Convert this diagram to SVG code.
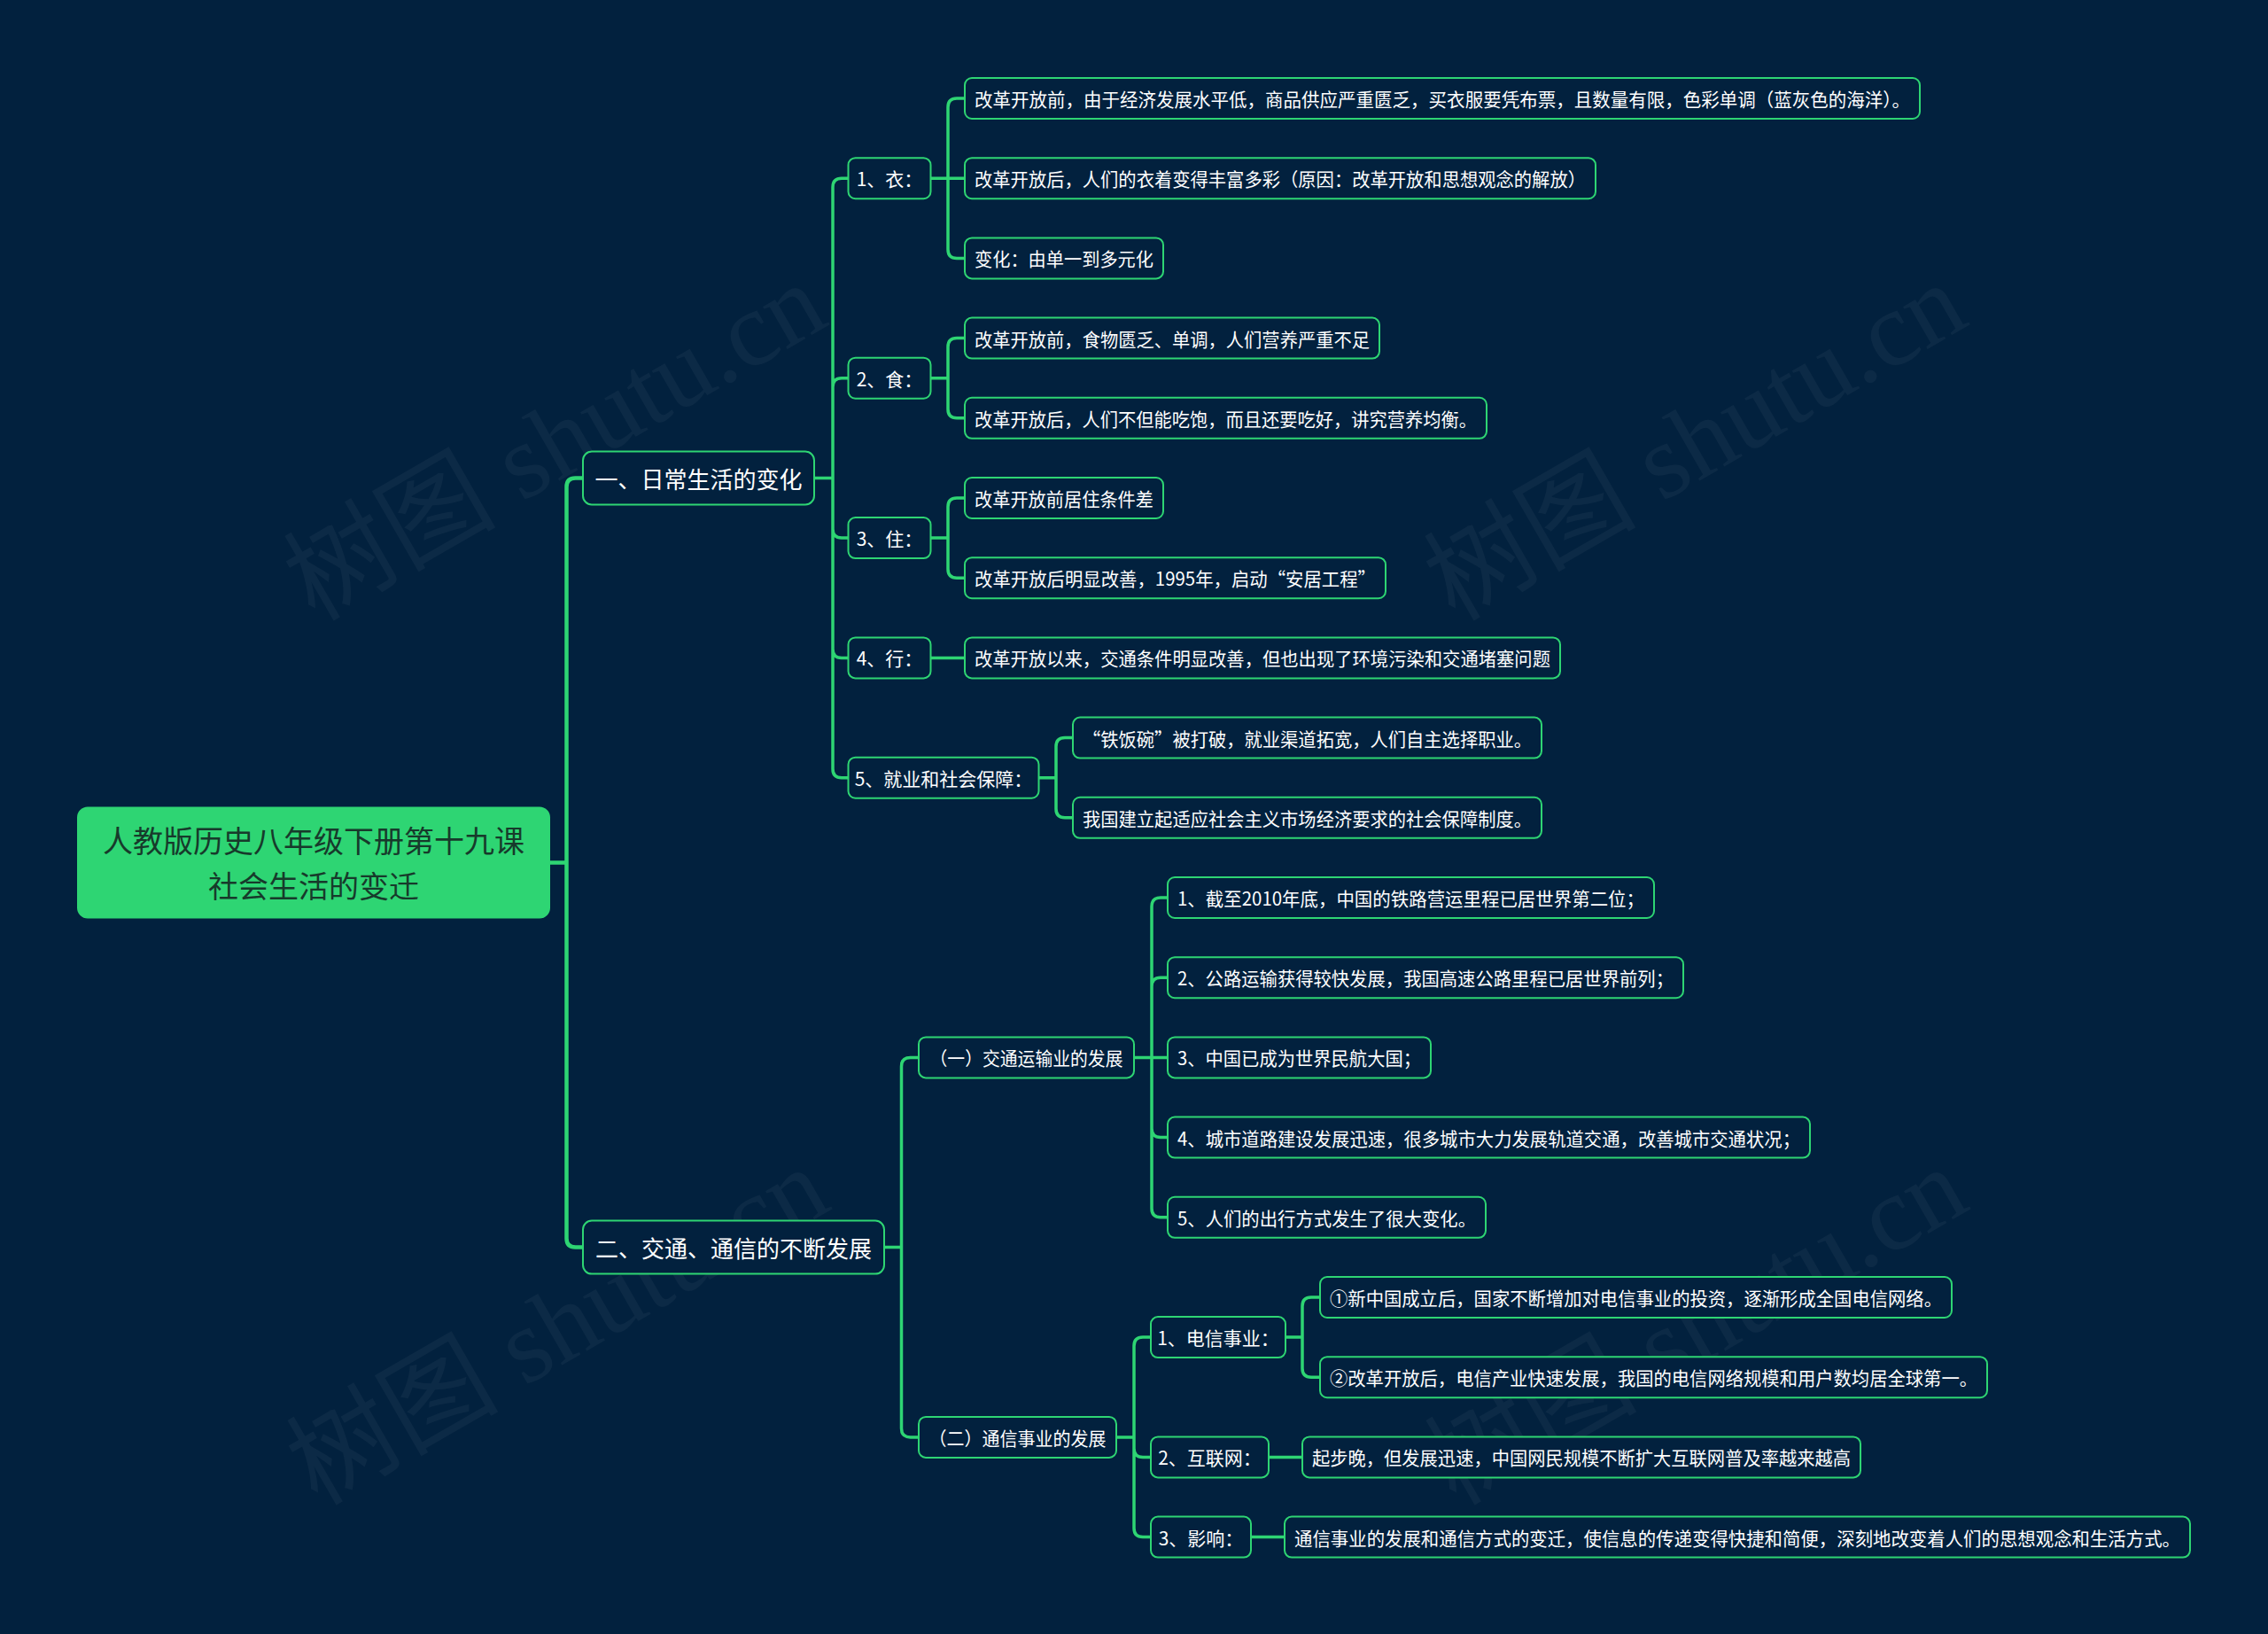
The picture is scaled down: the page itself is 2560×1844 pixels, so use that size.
<svg xmlns="http://www.w3.org/2000/svg" width="2560" height="1844" viewBox="0 0 2560 1844">
<style>
.bg{fill:#02213e}
.box{fill:#02213e;stroke:#2ed573;stroke-width:2}
.t{font-family:"Noto Sans CJK SC","Liberation Sans",sans-serif;fill:#ffffff;font-size:21px;text-anchor:middle;dominant-baseline:central}
.t1{font-size:26px}
.rt{font-family:"Noto Sans CJK SC","Liberation Sans",sans-serif;fill:#173a2b;font-size:34px;text-anchor:middle;dominant-baseline:central}
.c{fill:none;stroke:#2ed573;stroke-width:3.5;stroke-linecap:round}
.c0{stroke-width:4.5}
.wm{font-family:"Liberation Serif","Noto Sans CJK SC",serif;font-size:120px;fill:#ffffff;opacity:0.04}
</style>
<rect class="bg" x="0" y="0" width="2560" height="1844"/>
<g id="watermarks">
<text class="wm" transform="translate(355,702) rotate(-30)">树图 shutu.cn</text>
<text class="wm" transform="translate(1642,702) rotate(-30)">树图 shutu.cn</text>
<text class="wm" transform="translate(358,1700) rotate(-30)">树图 shutu.cn</text>
<text class="wm" transform="translate(1643,1700) rotate(-30)">树图 shutu.cn</text>
</g>
<g id="connectors">
<path class="c c0" d="M621,973.5 H639.5 M639.5,973.5 V549.5 Q639.5,539.5 649.5,539.5 H658 M639.5,973.5 V1397.6 Q639.5,1407.6 649.5,1407.6 H658"/>
<path class="c" d="M919,539.5 H940 M940,539.5 V211.2 Q940,201.2 950,201.2 H957.5 M940,539.5 V436.7 Q940,426.7 950,426.7 H957.5 M940,539.5 V597.1 Q940,607.1 950,607.1 H957.5 M940,539.5 V732.4 Q940,742.4 950,742.4 H957.5 M940,539.5 V867.7 Q940,877.7 950,877.7 H957.5"/>
<path class="c" d="M1050.5,201.2 H1089 M1070,201.2 V121 Q1070,111 1080,111 H1089 M1070,201.2 V281.4 Q1070,291.4 1080,291.4 H1089"/>
<path class="c" d="M1050.5,426.7 H1070 M1070,426.7 V391.6 Q1070,381.6 1080,381.6 H1089 M1070,426.7 V461.8 Q1070,471.8 1080,471.8 H1089"/>
<path class="c" d="M1050.5,607.1 H1070 M1070,607.1 V572 Q1070,562 1080,562 H1089 M1070,607.1 V642.2 Q1070,652.2 1080,652.2 H1089"/>
<path class="c" d="M1050.5,742.4 H1089"/>
<path class="c" d="M1172.5,877.7 H1192 M1192,877.7 V842.6 Q1192,832.6 1202,832.6 H1211 M1192,877.7 V912.8 Q1192,922.8 1202,922.8 H1211"/>
<path class="c" d="M998,1407.6 H1017.5 M1017.5,1407.6 V1203.4 Q1017.5,1193.4 1027.5,1193.4 H1037 M1017.5,1407.6 V1611.9 Q1017.5,1621.9 1027.5,1621.9 H1037"/>
<path class="c" d="M1280,1193.4 H1318 M1300,1193.4 V1023 Q1300,1013 1310,1013 H1318 M1300,1193.4 V1113.2 Q1300,1103.2 1310,1103.2 H1318 M1300,1193.4 V1273.6 Q1300,1283.6 1310,1283.6 H1318 M1300,1193.4 V1363.8 Q1300,1373.8 1310,1373.8 H1318"/>
<path class="c" d="M1260,1621.9 H1280 M1280,1621.9 V1519.1 Q1280,1509.1 1290,1509.1 H1299 M1280,1621.9 V1634.4 Q1280,1644.4 1290,1644.4 H1299 M1280,1621.9 V1724.6 Q1280,1734.6 1290,1734.6 H1299"/>
<path class="c" d="M1451,1509.1 H1470 M1470,1509.1 V1474 Q1470,1464 1480,1464 H1490 M1470,1509.1 V1544.2 Q1470,1554.2 1480,1554.2 H1490"/>
<path class="c" d="M1432,1644.4 H1470"/>
<path class="c" d="M1412,1734.6 H1450"/>
</g>
<g id="n-root">
<rect x="87" y="910.5" width="534" height="126" rx="12" fill="#2ed573"/>
<text class="rt" x="354" y="947">人教版历史八年级下册第十九课</text>
<text class="rt" x="354" y="998">社会生活的变迁</text>
</g>
<g id="n1"><rect class="box" x="658" y="509.5" width="261" height="60" rx="10"/><text class="t t1" x="788.5" y="539.5">一、日常生活的变化</text></g>
<g id="n2"><rect class="box" x="658" y="1377.6" width="340" height="60" rx="10"/><text class="t t1" x="828" y="1407.6">二、交通、通信的不断发展</text></g>
<g id="n1-1"><rect class="box" x="957.5" y="178.2" width="93" height="46" rx="8"/><text class="t" x="1004" y="201.2">1、衣：</text></g>
<g id="n1-2"><rect class="box" x="957.5" y="403.7" width="93" height="46" rx="8"/><text class="t" x="1004" y="426.7">2、食：</text></g>
<g id="n1-3"><rect class="box" x="957.5" y="584.1" width="93" height="46" rx="8"/><text class="t" x="1004" y="607.1">3、住：</text></g>
<g id="n1-4"><rect class="box" x="957.5" y="719.4" width="93" height="46" rx="8"/><text class="t" x="1004" y="742.4">4、行：</text></g>
<g id="n1-5"><rect class="box" x="957.5" y="854.7" width="215" height="46" rx="8"/><text class="t" x="1065" y="877.7">5、就业和社会保障：</text></g>
<g id="n1-1-1"><rect class="box" x="1089" y="88" width="1078" height="46" rx="8"/><text class="t" x="1628" y="111" textLength="1056" lengthAdjust="spacingAndGlyphs">改革开放前，由于经济发展水平低，商品供应严重匮乏，买衣服要凭布票，且数量有限，色彩单调（蓝灰色的海洋）。</text></g>
<g id="n1-1-2"><rect class="box" x="1089" y="178.2" width="712" height="46" rx="8"/><text class="t" x="1445" y="201.2" textLength="690" lengthAdjust="spacingAndGlyphs">改革开放后，人们的衣着变得丰富多彩（原因：改革开放和思想观念的解放）</text></g>
<g id="n1-1-3"><rect class="box" x="1089" y="268.4" width="224" height="46" rx="8"/><text class="t" x="1201" y="291.4" textLength="202" lengthAdjust="spacingAndGlyphs">变化：由单一到多元化</text></g>
<g id="n1-2-1"><rect class="box" x="1089" y="358.6" width="468" height="46" rx="8"/><text class="t" x="1323" y="381.6" textLength="446" lengthAdjust="spacingAndGlyphs">改革开放前，食物匮乏、单调，人们营养严重不足</text></g>
<g id="n1-2-2"><rect class="box" x="1089" y="448.8" width="589" height="46" rx="8"/><text class="t" x="1383.5" y="471.8" textLength="567" lengthAdjust="spacingAndGlyphs">改革开放后，人们不但能吃饱，而且还要吃好，讲究营养均衡。</text></g>
<g id="n1-3-1"><rect class="box" x="1089" y="539" width="224" height="46" rx="8"/><text class="t" x="1201" y="562" textLength="202" lengthAdjust="spacingAndGlyphs">改革开放前居住条件差</text></g>
<g id="n1-3-2"><rect class="box" x="1089" y="629.2" width="475" height="46" rx="8"/><text class="t" x="1326.5" y="652.2" textLength="453" lengthAdjust="spacingAndGlyphs">改革开放后明显改善，1995年，启动“安居工程”</text></g>
<g id="n1-4-1"><rect class="box" x="1089" y="719.4" width="672" height="46" rx="8"/><text class="t" x="1425" y="742.4" textLength="650" lengthAdjust="spacingAndGlyphs">改革开放以来，交通条件明显改善，但也出现了环境污染和交通堵塞问题</text></g>
<g id="n1-5-1"><rect class="box" x="1211" y="809.6" width="529" height="46" rx="8"/><text class="t" x="1475.5" y="832.6" textLength="507" lengthAdjust="spacingAndGlyphs">“铁饭碗”被打破，就业渠道拓宽，人们自主选择职业。</text></g>
<g id="n1-5-2"><rect class="box" x="1211" y="899.8" width="529" height="46" rx="8"/><text class="t" x="1475.5" y="922.8" textLength="507" lengthAdjust="spacingAndGlyphs">我国建立起适应社会主义市场经济要求的社会保障制度。</text></g>
<g id="n2-1"><rect class="box" x="1037" y="1170.4" width="243" height="46" rx="8"/><text class="t" x="1158.5" y="1193.4" textLength="218" lengthAdjust="spacingAndGlyphs">（一）交通运输业的发展</text></g>
<g id="n2-2"><rect class="box" x="1037" y="1598.9" width="223" height="46" rx="8"/><text class="t" x="1148.5" y="1621.9" textLength="200" lengthAdjust="spacingAndGlyphs">（二）通信事业的发展</text></g>
<g id="n2-1-1"><rect class="box" x="1318" y="990" width="549" height="46" rx="8"/><text class="t" x="1592.5" y="1013" textLength="527" lengthAdjust="spacingAndGlyphs">1、截至2010年底，中国的铁路营运里程已居世界第二位；</text></g>
<g id="n2-1-2"><rect class="box" x="1318" y="1080.2" width="582" height="46" rx="8"/><text class="t" x="1609" y="1103.2" textLength="560" lengthAdjust="spacingAndGlyphs">2、公路运输获得较快发展，我国高速公路里程已居世界前列；</text></g>
<g id="n2-1-3"><rect class="box" x="1318" y="1170.4" width="297" height="46" rx="8"/><text class="t" x="1466.5" y="1193.4" textLength="275" lengthAdjust="spacingAndGlyphs">3、中国已成为世界民航大国；</text></g>
<g id="n2-1-4"><rect class="box" x="1318" y="1260.6" width="725" height="46" rx="8"/><text class="t" x="1680.5" y="1283.6" textLength="703" lengthAdjust="spacingAndGlyphs">4、城市道路建设发展迅速，很多城市大力发展轨道交通，改善城市交通状况；</text></g>
<g id="n2-1-5"><rect class="box" x="1318" y="1350.8" width="359" height="46" rx="8"/><text class="t" x="1497.5" y="1373.8" textLength="337" lengthAdjust="spacingAndGlyphs">5、人们的出行方式发生了很大变化。</text></g>
<g id="n2-2-1"><rect class="box" x="1299" y="1486.1" width="152" height="46" rx="8"/><text class="t" x="1375" y="1509.1">1、电信事业：</text></g>
<g id="n2-2-2"><rect class="box" x="1299" y="1621.4" width="133" height="46" rx="8"/><text class="t" x="1365.5" y="1644.4">2、互联网：</text></g>
<g id="n2-2-3"><rect class="box" x="1299" y="1711.6" width="113" height="46" rx="8"/><text class="t" x="1355.5" y="1734.6">3、影响：</text></g>
<g id="n2-2-1-1"><rect class="box" x="1490" y="1441" width="713" height="46" rx="8"/><text class="t" x="1846.5" y="1464" textLength="691" lengthAdjust="spacingAndGlyphs">①新中国成立后，国家不断增加对电信事业的投资，逐渐形成全国电信网络。</text></g>
<g id="n2-2-1-2"><rect class="box" x="1490" y="1531.2" width="753" height="46" rx="8"/><text class="t" x="1866.5" y="1554.2" textLength="731" lengthAdjust="spacingAndGlyphs">②改革开放后，电信产业快速发展，我国的电信网络规模和用户数均居全球第一。</text></g>
<g id="n2-2-2-1"><rect class="box" x="1470" y="1621.4" width="630" height="46" rx="8"/><text class="t" x="1785" y="1644.4" textLength="608" lengthAdjust="spacingAndGlyphs">起步晚，但发展迅速，中国网民规模不断扩大互联网普及率越来越高</text></g>
<g id="n2-2-3-1"><rect class="box" x="1450" y="1711.6" width="1022" height="46" rx="8"/><text class="t" x="1961" y="1734.6" textLength="1000" lengthAdjust="spacingAndGlyphs">通信事业的发展和通信方式的变迁，使信息的传递变得快捷和简便，深刻地改变着人们的思想观念和生活方式。</text></g>
</svg>
